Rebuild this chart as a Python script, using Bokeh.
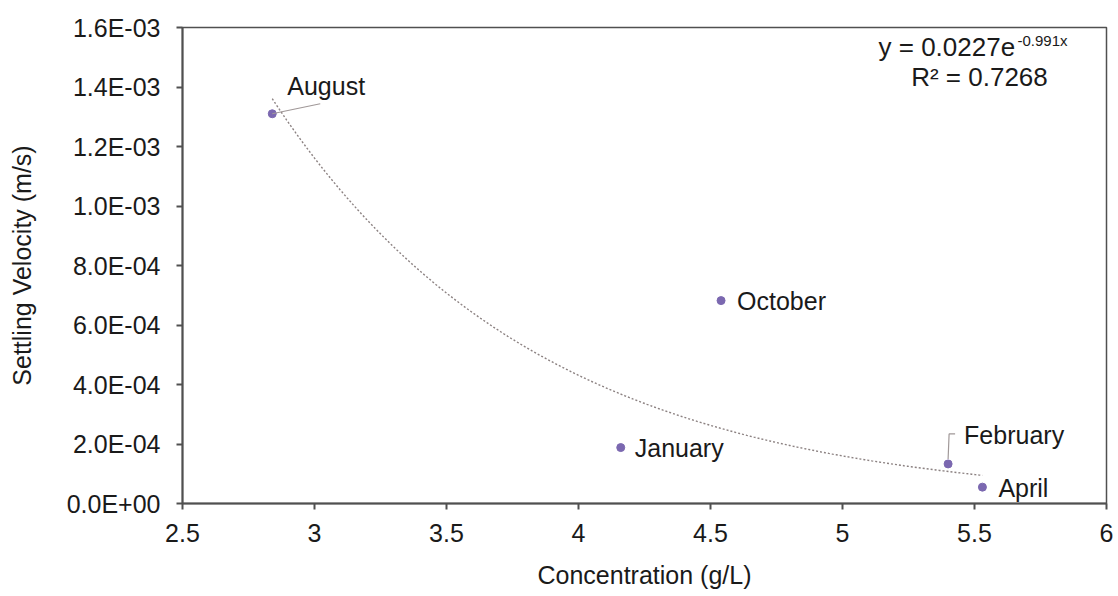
import numpy as np
from bokeh.plotting import figure
from bokeh.models import (ColumnDataSource, LabelSet, Label, Range1d, FixedTicker,
                          CustomJSTickFormatter)
from bokeh.core.properties import value
from bokeh.embed import file_html
from bokeh.resources import INLINE

# Monthly samples: suspended concentration vs settling velocity
months = ["August", "January", "October", "February", "April"]
concentration = [2.84, 4.16, 4.54, 5.40, 5.53]          # g/L
velocity = [1.31e-3, 1.88e-4, 6.82e-4, 1.33e-4, 5.5e-5]  # m/s

# Exponential trendline  y = a * exp(b * x)
fit_a = 0.0227
fit_b = -0.991
fit_r2 = 0.7268

x_ticks = [2.5, 3, 3.5, 4, 4.5, 5, 5.5, 6]
x_tick_labels = ["2.5", "3", "3.5", "4", "4.5", "5", "5.5", "6"]
y_ticks = [0, 2e-4, 4e-4, 6e-4, 8e-4, 1.0e-3, 1.2e-3, 1.4e-3, 1.6e-3]
y_tick_labels = ["0.0E+00", "2.0E-04", "4.0E-04", "6.0E-04", "8.0E-04",
                 "1.0E-03", "1.2E-03", "1.4E-03", "1.6E-03"]

FONT = "Liberation Sans"
INK = "#1a1a1a"
AXIS = "#505050"

W, H = 1118, 596
BL, BR, BT, BB = 182, 12, 27, 93
FW, FH = W - BL - BR, H - BT - BB
X0, X1 = 2.5, 6.0
Y0, Y1 = 0.0, 1.6e-3
DX = (X1 - X0) / FW   # data units per pixel
DY = (Y1 - Y0) / FH

p = figure(width=W, height=H, x_range=Range1d(X0, X1), y_range=Range1d(Y0, Y1),
           output_backend="svg", toolbar_location=None,
           min_border_left=BL, min_border_right=BR, min_border_top=BT, min_border_bottom=BB,
           background_fill_color="white", border_fill_color="white")

pick = """
let best = 0;
for (let i = 0; i < tvals.length; i++) {
  if (Math.abs(tvals[i] - tick) < Math.abs(tvals[best] - tick)) best = i;
}
return tlabels[best];
"""
p.xaxis.ticker = FixedTicker(ticks=x_ticks)
p.yaxis.ticker = FixedTicker(ticks=y_ticks)
p.xaxis.formatter = CustomJSTickFormatter(args=dict(tvals=x_ticks, tlabels=x_tick_labels), code=pick)
p.yaxis.formatter = CustomJSTickFormatter(args=dict(tvals=y_ticks, tlabels=y_tick_labels), code=pick)

p.xaxis.axis_label = "Concentration (g/L)"
p.yaxis.axis_label = "Settling Velocity (m/s)"
for ax in (p.xaxis, p.yaxis):
    ax.axis_line_color = AXIS
    ax.axis_line_width = 2
    ax.major_tick_line_color = AXIS
    ax.major_tick_line_width = 2
    ax.major_tick_out = 6
    ax.major_tick_in = 0
    ax.minor_tick_line_color = None
    ax.major_label_text_font = FONT
    ax.major_label_text_font_size = "25px"
    ax.major_label_text_color = INK
    ax.axis_label_text_font = FONT
    ax.axis_label_text_font_size = "25px"
    ax.axis_label_text_font_style = "normal"
    ax.axis_label_text_color = INK
p.xaxis.major_label_standoff = 14
p.xaxis.axis_label_standoff = 16
p.yaxis.major_label_standoff = 16
p.yaxis.axis_label_standoff = 28

p.xgrid.visible = False
p.ygrid.visible = False
p.outline_line_color = AXIS
p.outline_line_width = 1.5

# trendline over the sampled concentration span
xs = np.linspace(min(concentration), max(concentration), 200)
ys = fit_a * np.exp(fit_b * xs)
p.line(xs, ys, line_color="#8c8282", line_width=1.4, line_dash="2 2")

# data points
src = ColumnDataSource(dict(x=concentration, y=velocity, name=months))
p.scatter("x", "y", source=src, marker="circle", size=8,
          fill_color="#7b68b0", line_color="#7b68b0")

# label placement, in pixels from each point (right, up)
label_shift = {"August": (15, 28), "January": (14, 0), "October": (16, 0),
               "February": (16, 29), "April": (16, -1)}
lx = [x + label_shift[m][0] * DX for m, x in zip(months, concentration)]
ly = [y + label_shift[m][1] * DY for m, y in zip(months, velocity)]
lsrc = ColumnDataSource(dict(x=lx, y=ly, name=months))
p.add_layout(LabelSet(x="x", y="y", text="name", source=lsrc,
                      text_font=value(FONT), text_font_size=value("25px"),
                      text_color=INK, text_align="left", text_baseline="middle"))

# leader lines
ia = months.index("August")
ax_, ay_ = concentration[ia], velocity[ia]
p.line([ax_, ax_ + 48 * DX], [ay_, ay_ + 10 * DY], line_color="#a09898", line_width=1.2)
ib = months.index("February")
bx_, by_ = concentration[ib], velocity[ib]
p.line([bx_, bx_ + 1 * DX, bx_ + 7 * DX], [by_ + 5 * DY, by_ + 30 * DY, by_ + 30 * DY],
       line_color="#a09898", line_width=1.2)


# fit equation, top right
def px_x(px):
    return X0 + (px - BL) * DX


def px_y(py):
    return Y1 - (py - BT) * DY


p.add_layout(Label(x=px_x(878), y=px_y(46), text=f"y = {fit_a}e",
                   text_font=FONT, text_font_size="26px", text_color=INK,
                   text_align="left", text_baseline="middle"))
p.add_layout(Label(x=px_x(1017), y=px_y(40), text=f"{fit_b}x",
                   text_font=FONT, text_font_size="15px", text_color=INK,
                   text_align="left", text_baseline="middle"))
p.add_layout(Label(x=px_x(979), y=px_y(76), text=f"R\u00b2 = {fit_r2}",
                   text_font=FONT, text_font_size="26px", text_color=INK,
                   text_align="center", text_baseline="middle"))

open("out.html", "w").write(file_html(p, INLINE))
